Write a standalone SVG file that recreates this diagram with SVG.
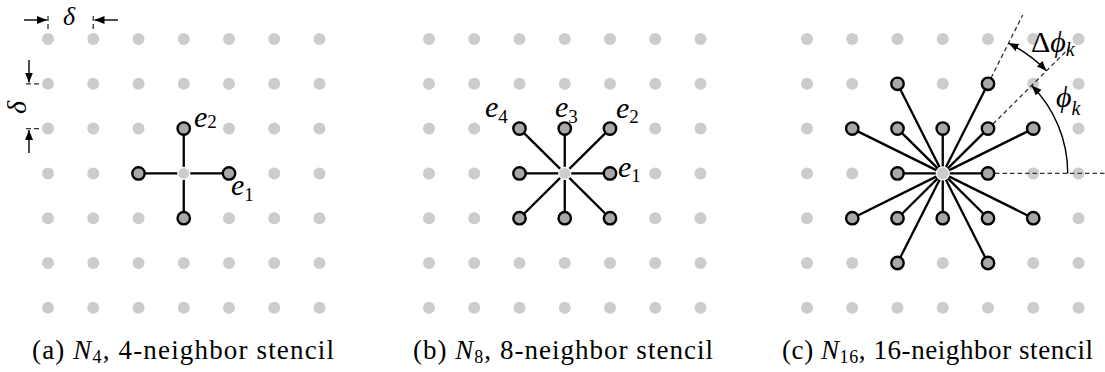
<svg xmlns="http://www.w3.org/2000/svg" xmlns:xlink="http://www.w3.org/1999/xlink" width="1105" height="372" viewBox="0 0 1105 372">
<style>
.dot{fill:#cdcccd}
.nb{fill:#a9a7a8;stroke:#000;stroke-width:2.4}
.ln{stroke:#000;stroke-width:2.3;fill:none}
.ctr{fill:#cdcccd;stroke:#fff;stroke-width:1.2}
.dash{stroke:#333;stroke-width:1.3;stroke-dasharray:4.5,3;fill:none}
.tick{stroke:#333;stroke-width:1.3;stroke-dasharray:5,3;fill:none}
.arr{stroke:#000;stroke-width:1.4;fill:none}
.m{font-family:"Liberation Serif","DejaVu Serif",serif;font-style:italic;fill:#000}
.cap{font-family:"Liberation Serif","DejaVu Serif",serif;font-size:27px;fill:#000}
</style>
<defs>
<marker id="ah" viewBox="0 0 10 8" refX="10" refY="4" markerWidth="10" markerHeight="8" markerUnits="userSpaceOnUse" orient="auto-start-reverse">
<path d="M0,0 L10,4 L0,8 z" fill="#000"/>
</marker>
<g id="row">
<circle class="dot" cx="0" cy="0" r="6"/>
<circle class="dot" cx="45.25" cy="0" r="6"/>
<circle class="dot" cx="90.5" cy="0" r="6"/>
<circle class="dot" cx="135.75" cy="0" r="6"/>
<circle class="dot" cx="181" cy="0" r="6"/>
<circle class="dot" cx="226.25" cy="0" r="6"/>
<circle class="dot" cx="271.5" cy="0" r="6"/>
</g>
<g id="grid">
<use xlink:href="#row" href="#row" y="0"/>
<use xlink:href="#row" href="#row" y="44.8"/>
<use xlink:href="#row" href="#row" y="89.6"/>
<use xlink:href="#row" href="#row" y="134.4"/>
<use xlink:href="#row" href="#row" y="179.2"/>
<use xlink:href="#row" href="#row" y="224"/>
<use xlink:href="#row" href="#row" y="268.8"/>
</g>
</defs>
<rect width="1105" height="372" fill="#fff"/>

<!-- grids -->
<g id="grids">
<use xlink:href="#grid" href="#grid" x="48" y="39"/>
<use xlink:href="#grid" href="#grid" x="429" y="39"/>
<use xlink:href="#grid" href="#grid" x="807" y="39"/>
</g>

<!-- panel a delta markers -->
<g id="delta-markers">
<line class="tick" x1="48" y1="16" x2="48" y2="31"/>
<line class="tick" x1="93.25" y1="16" x2="93.25" y2="31"/>
<line class="arr" x1="24" y1="20" x2="47" y2="20" marker-end="url(#ah)"/>
<line class="arr" x1="118" y1="20" x2="94.5" y2="20" marker-end="url(#ah)"/>
<text class="m" x="63" y="25" font-size="26">δ</text>
<line class="tick" x1="26" y1="83.8" x2="41" y2="83.8"/>
<line class="tick" x1="26" y1="128.6" x2="41" y2="128.6"/>
<line class="arr" x1="29" y1="60" x2="29" y2="82.5" marker-end="url(#ah)"/>
<line class="arr" x1="29" y1="153" x2="29" y2="130" marker-end="url(#ah)"/>
<text class="m" font-size="28" transform="translate(26,114) rotate(-90)">δ</text>
</g>

<!-- connectors -->
<g id="connectors">
<g id="conn-a">
<line class="ln" x1="183.75" y1="173.4" x2="229" y2="173.4"/>
<line class="ln" x1="183.75" y1="173.4" x2="183.75" y2="128.6"/>
<line class="ln" x1="183.75" y1="173.4" x2="138.5" y2="173.4"/>
<line class="ln" x1="183.75" y1="173.4" x2="183.75" y2="218.2"/>
</g>
<g id="conn-b">
<line class="ln" x1="564.75" y1="173.4" x2="610" y2="173.4"/>
<line class="ln" x1="564.75" y1="173.4" x2="610" y2="128.6"/>
<line class="ln" x1="564.75" y1="173.4" x2="564.75" y2="128.6"/>
<line class="ln" x1="564.75" y1="173.4" x2="519.5" y2="128.6"/>
<line class="ln" x1="564.75" y1="173.4" x2="519.5" y2="173.4"/>
<line class="ln" x1="564.75" y1="173.4" x2="519.5" y2="218.2"/>
<line class="ln" x1="564.75" y1="173.4" x2="564.75" y2="218.2"/>
<line class="ln" x1="564.75" y1="173.4" x2="610" y2="218.2"/>
</g>
<g id="conn-c">
<line class="ln" x1="942.75" y1="173.4" x2="988" y2="173.4"/>
<line class="ln" x1="942.75" y1="173.4" x2="1033.25" y2="128.6"/>
<line class="ln" x1="942.75" y1="173.4" x2="988" y2="128.6"/>
<line class="ln" x1="942.75" y1="173.4" x2="988" y2="83.8"/>
<line class="ln" x1="942.75" y1="173.4" x2="942.75" y2="128.6"/>
<line class="ln" x1="942.75" y1="173.4" x2="897.5" y2="83.8"/>
<line class="ln" x1="942.75" y1="173.4" x2="897.5" y2="128.6"/>
<line class="ln" x1="942.75" y1="173.4" x2="852.25" y2="128.6"/>
<line class="ln" x1="942.75" y1="173.4" x2="897.5" y2="173.4"/>
<line class="ln" x1="942.75" y1="173.4" x2="852.25" y2="218.2"/>
<line class="ln" x1="942.75" y1="173.4" x2="897.5" y2="218.2"/>
<line class="ln" x1="942.75" y1="173.4" x2="897.5" y2="263"/>
<line class="ln" x1="942.75" y1="173.4" x2="942.75" y2="218.2"/>
<line class="ln" x1="942.75" y1="173.4" x2="988" y2="263"/>
<line class="ln" x1="942.75" y1="173.4" x2="988" y2="218.2"/>
<line class="ln" x1="942.75" y1="173.4" x2="1033.25" y2="218.2"/>
</g>
</g>

<!-- panel a nodes -->
<g id="panel-a">
<circle id="a-center" class="ctr" cx="183.75" cy="173.4" r="6"/>
<g id="a-e1"><circle class="nb" cx="229" cy="173.4" r="6.2"/></g>
<g id="a-e2"><circle class="nb" cx="183.75" cy="128.6" r="6.2"/></g>
<g id="a-w"><circle class="nb" cx="138.5" cy="173.4" r="6.2"/></g>
<g id="a-s"><circle class="nb" cx="183.75" cy="218.2" r="6.2"/></g>
<text class="m" font-size="30" x="194" y="127">e<tspan font-size="19" font-style="normal" dy="1">2</tspan></text>
<text class="m" font-size="30" x="231" y="195">e<tspan font-size="19" font-style="normal" dy="6">1</tspan></text>
</g>

<!-- panel b nodes -->
<g id="panel-b">
<circle id="b-center" class="ctr" cx="564.75" cy="173.4" r="6"/>
<g id="b-e1"><circle class="nb" cx="610" cy="173.4" r="6.2"/></g>
<g id="b-e2"><circle class="nb" cx="610" cy="128.6" r="6.2"/></g>
<g id="b-e3"><circle class="nb" cx="564.75" cy="128.6" r="6.2"/></g>
<g id="b-e4"><circle class="nb" cx="519.5" cy="128.6" r="6.2"/></g>
<g id="b-w"><circle class="nb" cx="519.5" cy="173.4" r="6.2"/></g>
<g id="b-sw"><circle class="nb" cx="519.5" cy="218.2" r="6.2"/></g>
<g id="b-s"><circle class="nb" cx="564.75" cy="218.2" r="6.2"/></g>
<g id="b-se"><circle class="nb" cx="610" cy="218.2" r="6.2"/></g>
<text class="m" font-size="30" x="616" y="118">e<tspan font-size="19" font-style="normal" dy="5">2</tspan></text>
<text class="m" font-size="30" x="555" y="117">e<tspan font-size="19" font-style="normal" dy="6">3</tspan></text>
<text class="m" font-size="30" x="485" y="117">e<tspan font-size="19" font-style="normal" dy="6">4</tspan></text>
<text class="m" font-size="30" x="618" y="177">e<tspan font-size="19" font-style="normal" dy="5">1</tspan></text>
</g>

<!-- panel c -->
<g id="panel-c-guides">
<line class="dash" x1="991" y1="78" x2="1022.75" y2="15"/>
<line class="dash" x1="993" y1="124" x2="1070" y2="47.4"/>
<line class="dash" x1="995" y1="173.4" x2="1105" y2="173.4"/>
<path class="arr" d="M1008.5,43.1 A146,146 0 0 1 1046.5,70.7" marker-start="url(#ah)" marker-end="url(#ah)"/>
<path class="arr" d="M1067.75,173.4 A125,125 0 0 0 1031.6,85.5" marker-end="url(#ah)"/>
<text class="m" font-size="30" x="1031" y="52"><tspan font-style="normal">Δ</tspan>ϕ<tspan font-size="20" dy="4">k</tspan></text>
<text class="m" font-size="30" x="1056" y="107">ϕ<tspan font-size="20" dy="8">k</tspan></text>
</g>
<g id="panel-c">
<circle id="c-center" class="ctr" cx="942.75" cy="173.4" r="6.5" stroke-width="1.6"/>
<g id="c-n1"><circle class="nb" cx="988" cy="173.4" r="6.2"/></g>
<g id="c-n2"><circle class="nb" cx="1033.25" cy="128.6" r="6.2"/></g>
<g id="c-n3"><circle class="nb" cx="988" cy="128.6" r="6.2"/></g>
<g id="c-n4"><circle class="nb" cx="988" cy="83.8" r="6.2"/></g>
<g id="c-n5"><circle class="nb" cx="942.75" cy="128.6" r="6.2"/></g>
<g id="c-n6"><circle class="nb" cx="897.5" cy="83.8" r="6.2"/></g>
<g id="c-n7"><circle class="nb" cx="897.5" cy="128.6" r="6.2"/></g>
<g id="c-n8"><circle class="nb" cx="852.25" cy="128.6" r="6.2"/></g>
<g id="c-n9"><circle class="nb" cx="897.5" cy="173.4" r="6.2"/></g>
<g id="c-n10"><circle class="nb" cx="852.25" cy="218.2" r="6.2"/></g>
<g id="c-n11"><circle class="nb" cx="897.5" cy="218.2" r="6.2"/></g>
<g id="c-n12"><circle class="nb" cx="897.5" cy="263" r="6.2"/></g>
<g id="c-n13"><circle class="nb" cx="942.75" cy="218.2" r="6.2"/></g>
<g id="c-n14"><circle class="nb" cx="988" cy="263" r="6.2"/></g>
<g id="c-n15"><circle class="nb" cx="988" cy="218.2" r="6.2"/></g>
<g id="c-n16"><circle class="nb" cx="1033.25" cy="218.2" r="6.2"/></g>
</g>

<!-- captions -->
<g id="captions">
<text class="cap" x="32" y="359" textLength="302" lengthAdjust="spacing">(a) <tspan font-style="italic">N</tspan><tspan font-size="18" dy="4">4</tspan><tspan dy="-4">, 4-neighbor stencil</tspan></text>
<text class="cap" x="413" y="359" textLength="300" lengthAdjust="spacing">(b) <tspan font-style="italic">N</tspan><tspan font-size="18" dy="4">8</tspan><tspan dy="-4">, 8-neighbor stencil</tspan></text>
<text class="cap" x="782" y="359" textLength="311" lengthAdjust="spacing">(c) <tspan font-style="italic">N</tspan><tspan font-size="18" dy="4">16</tspan><tspan dy="-4">, 16-neighbor stencil</tspan></text>
</g>
</svg>
